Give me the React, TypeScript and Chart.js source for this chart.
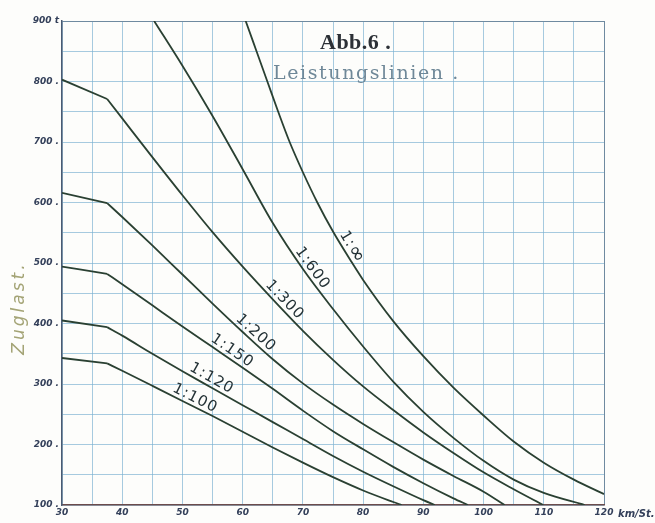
import { useEffect, useRef } from 'react';
import { Chart, registerables } from 'chart.js';

Chart.register(...registerables);

// Speed (km/St.) and train load (t) for each gradient curve
const speed100 = [30, 37.5, 40, 45, 50, 55, 60, 65, 70, 75, 80, 85, 86.4];
const load100 = [343, 334, 322, 297, 272, 247, 221, 195, 170, 146, 124, 105, 100];
const speed120 = [30, 37.5, 40, 45, 50, 55, 60, 65, 70, 75, 80, 85, 90, 91.9];
const load120 = [405, 394, 380, 350, 321, 293, 265, 237, 209, 181, 155, 131, 108, 100];
const speed150 = [30, 37.5, 40, 45, 50, 55, 60, 65, 70, 75, 80, 85, 90, 95, 97.4];
const load150 = [494, 482, 465, 430, 395, 361, 327, 292, 256, 222, 192, 163, 136, 111, 100];
const speed200 = [30, 37.5, 40, 45, 50, 55, 60, 65, 70, 75, 80, 85, 90, 95, 100, 103.5];
const load200 = [616, 599, 576, 529, 481, 433, 386, 341, 301, 266, 234, 204, 175, 148, 122, 100];
const speed300 = [30, 37.5, 40, 45, 50, 55, 60, 65, 70, 75, 80, 85, 90, 95, 100, 105, 109.9];
const load300 = [803, 771, 739, 675, 612, 551, 494, 440, 388, 340, 296, 257, 220, 186, 154, 126, 100];
const speed600 = [45.3, 50, 55, 60, 65, 70, 75, 80, 85, 90, 95, 100, 105, 110, 116.8];
const load600 = [900, 826, 743, 655, 566, 490, 424, 362, 304, 254, 211, 173, 142, 120, 100];
const speedInf = [60.5, 62.3, 64.1, 65.9, 67.8, 70, 72.4, 75, 78, 80, 85, 90, 95, 100, 105, 110, 115, 120];
const loadInf = [900, 850, 800, 750, 700, 650, 600, 552, 503, 472, 404, 346, 294, 248, 205, 170, 142, 118];

const curveNames = ['1:100', '1:120', '1:150', '1:200', '1:300', '1:600', '1:∞'];
const curveSpeeds = [speed100, speed120, speed150, speed200, speed300, speed600, speedInf];
const curveLoads = [load100, load120, load150, load200, load300, load600, loadInf];
// speed at which each curve's label sits
const labelSpeeds = [51.5, 54.2, 57.5, 61.3, 66, 70.5, 77];
// speed where the straight starting run breaks into the curve
const kinkSpeed = 37.5;

const xMin = 30;
const xMax = 120;
const yMin = 100;
const yMax = 900;

const titleMain = 'Abb.6 .';
const titleSub = 'Leistungslinien .';
const yTitle = 'Zuglast.';
const xUnit = 'km/St.';

function interp(xs: number[], ys: number[], x: number) {
  if (x <= xs[0]) return ys[0];
  for (let i = 1; i < xs.length; i++) {
    if (x <= xs[i]) {
      const t = (x - xs[i - 1]) / (xs[i] - xs[i - 1]);
      return ys[i - 1] + t * (ys[i] - ys[i - 1]);
    }
  }
  return ys[ys.length - 1];
}

const decorPlugin = {
  id: 'decor',
  afterDatasetsDraw(chart: any) {
    const ctx = chart.ctx;
    const xs = chart.scales.x;
    const ys = chart.scales.y;
    ctx.save();
    // curve labels
    ctx.fillStyle = '#243236';
    ctx.textBaseline = 'middle';
    curveNames.forEach((name, i) => {
      const sx = labelSpeeds[i];
      const px = xs.getPixelForValue(sx);
      const py = ys.getPixelForValue(interp(curveSpeeds[i], curveLoads[i], sx));
      const p1x = xs.getPixelForValue(sx - 1);
      const p1y = ys.getPixelForValue(interp(curveSpeeds[i], curveLoads[i], sx - 1));
      const p2x = xs.getPixelForValue(sx + 1);
      const p2y = ys.getPixelForValue(interp(curveSpeeds[i], curveLoads[i], sx + 1));
      const a = Math.atan2(p2y - p1y, p2x - p1x);
      const off = 8;
      const cx = px + Math.sin(a) * off;
      const cy = py - Math.cos(a) * off;
      ctx.save();
      ctx.translate(cx, cy);
      ctx.rotate(a);
      (ctx as any).letterSpacing = '1px';
      if (name.endsWith('∞')) {
        const head = name.slice(0, -1);
        ctx.font = '15px "DejaVu Sans"';
        const w1 = ctx.measureText(head).width;
        ctx.font = '21px "DejaVu Sans"';
        const w2 = ctx.measureText('∞').width;
        const start = -(w1 + w2) / 2;
        ctx.textAlign = 'left';
        ctx.font = '15px "DejaVu Sans"';
        ctx.fillText(head, start, 0);
        ctx.font = '21px "DejaVu Sans"';
        ctx.fillText('∞', start + w1, 0);
      } else {
        ctx.font = '15px "DejaVu Sans"';
        ctx.textAlign = 'center';
        ctx.fillText(name, 0, 0);
      }
      ctx.restore();
    });
    (ctx as any).letterSpacing = '0px';
    // title
    ctx.textAlign = 'left';
    ctx.textBaseline = 'alphabetic';
    ctx.fillStyle = '#2c3036';
    ctx.font = 'bold 22px "Liberation Serif"';
    (ctx as any).letterSpacing = '0.5px';
    ctx.fillText(titleMain, 320, 49);
    ctx.fillStyle = '#6f8898';
    ctx.font = '19px "DejaVu Serif"';
    (ctx as any).letterSpacing = '1.6px';
    ctx.fillText(titleSub, 273, 79);
    (ctx as any).letterSpacing = '0px';
    // y title
    ctx.save();
    ctx.translate(24, 308);
    ctx.rotate(-Math.PI / 2);
    ctx.textAlign = 'center';
    ctx.fillStyle = '#a4a476';
    ctx.font = 'italic 17px "DejaVu Sans"';
    (ctx as any).letterSpacing = '3px';
    ctx.fillText(yTitle, 0, 0);
    ctx.restore();
    // x unit
    ctx.fillStyle = '#34405a';
    ctx.font = 'italic bold 10px "DejaVu Sans"';
    ctx.textAlign = 'left';
    ctx.textBaseline = 'middle';
    ctx.fillText(xUnit, xs.getPixelForValue(xMax) + 14, ys.bottom + 9);
    ctx.restore();
  },
};

export default function App() {
  const ref = useRef<HTMLCanvasElement | null>(null);
  useEffect(() => {
    if (!ref.current) return;
    const lineStyle = {
      borderColor: '#2a4032',
      borderWidth: 1.8,
      pointRadius: 0,
      fill: false,
      cubicInterpolationMode: 'monotone' as const,
    };
    const datasets: any[] = [];
    curveNames.forEach((name, i) => {
      const pts = curveSpeeds[i].map((s, j) => ({ x: s, y: curveLoads[i][j] }));
      const k = curveSpeeds[i].indexOf(kinkSpeed);
      if (k > 0) {
        // straight run up to the kink, then the curved part
        datasets.push({ label: name + ' a', data: pts.slice(0, k + 1), ...lineStyle });
        datasets.push({ label: name, data: pts.slice(k), ...lineStyle });
      } else {
        datasets.push({ label: name, data: pts, ...lineStyle });
      }
    });
    const chart = new Chart(ref.current, {
      type: 'line',
      data: { datasets },
      plugins: [decorPlugin],
      options: {
        animation: false,
        responsive: false,
        events: [],
        layout: { padding: { top: 21, right: 51, left: 0, bottom: 0 } },
        plugins: { legend: { display: false }, tooltip: { enabled: false } },
        scales: {
          x: {
            type: 'linear',
            min: xMin,
            max: xMax,
            afterFit: (s: any) => { s.height = 18; },
            ticks: {
              stepSize: 5,
              autoSkip: false,
              maxRotation: 0,
              padding: 2,
              color: '#34405a',
              font: { family: 'DejaVu Sans', size: 9, style: 'italic', weight: 'bold' },
              callback: (v: any) => (Number(v) % 10 === 0 ? String(v) : ''),
            },
            grid: {
              color: (c: any) => (c.tick && c.tick.value === xMax ? '#6f8aa0' : 'rgba(120,175,208,0.65)'),
              lineWidth: 1,
              drawTicks: false,
            },
            border: { color: '#6b4c4c', width: 1.5 },
          },
          y: {
            type: 'linear',
            min: yMin,
            max: yMax,
            afterFit: (s: any) => { s.width = 62; },
            ticks: {
              stepSize: 50,
              autoSkip: false,
              padding: 3,
              color: '#34405a',
              font: { family: 'DejaVu Sans', size: 9, style: 'italic', weight: 'bold' },
              callback: (v: any) => {
                const n = Number(v);
                if (n === yMax) return n + ' t';
                return n % 100 === 0 ? n + ' .' : '';
              },
            },
            grid: {
              color: (c: any) => (c.tick && c.tick.value === yMax ? '#6f8aa0' : 'rgba(120,175,208,0.65)'),
              lineWidth: 1,
              drawTicks: false,
            },
            border: { color: '#4a5a72', width: 1.5 },
          },
        },
      },
    });
    return () => chart.destroy();
  }, []);
  return (
    <div style={{ position: 'fixed', left: 0, top: 0, width: 655, height: 523, background: '#fdfdfb' }}>
      <canvas ref={ref} width={655} height={523} />
    </div>
  );
}
